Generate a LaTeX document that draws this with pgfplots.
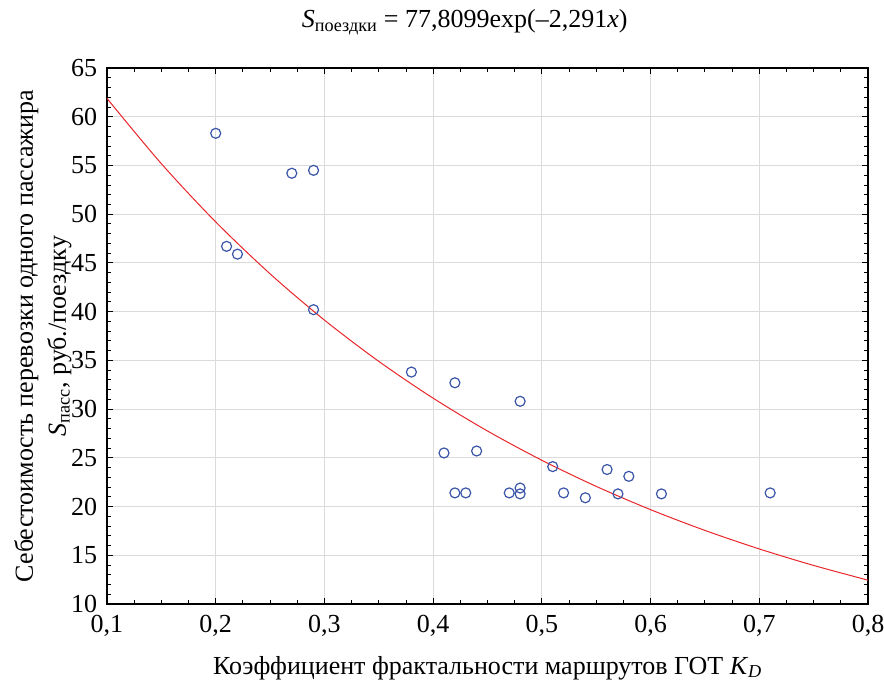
\documentclass[border=0pt]{standalone}
\usepackage{fontspec}
\setmainfont{Liberation Serif}
\usepackage{pgfplots}
\pgfplotsset{compat=1.18}
\definecolor{ptblue}{HTML}{3A55A8}
\definecolor{fitred}{HTML}{E8262A}

\begin{document}
\fontsize{26}{30}\selectfont
\begin{tikzpicture}
\begin{axis}[
    scale only axis,
    width=761pt, height=536pt,
    xmin=0.1, xmax=0.8, ymin=10, ymax=65,
    xtick={0.1,0.2,...,0.8},
    ytick={10,15,...,65},
    minor x tick num=3, minor y tick num=4,
    tick align=inside,
    major tick length=6pt, minor tick length=4pt,
    tick style={black, line width=0.9pt},
    axis line style={line width=1.3pt},
    grid=major, major grid style={black!14, line width=0.9pt},
    /pgf/number format/assume math mode=true,
    ticklabel style={font=\fontsize{26}{30}\selectfont},
    xticklabel style={yshift=-2pt, /pgf/number format/fixed,
        /pgf/number format/fixed zerofill, /pgf/number format/precision=1,
        /pgf/number format/use comma},
    yticklabel style={xshift=-1pt},
    xlabel={Коэффициент фрактальности маршрутов ГОТ \textit{K}\textsubscript{\textit{D}}},
    xlabel style={at={(axis description cs:0.5,0)}, anchor=center, yshift=-64pt,
        font=\fontsize{26}{30}\selectfont},
    ylabel={Себестоимость перевозки одного пассажира\\\textit{S}\textsubscript{пасс}, руб./поездку},
    ylabel style={at={(axis description cs:0,0.5)}, anchor=center, yshift=64pt,
        align=center, font=\fontsize{26}{33}\selectfont},
    title={\textit{S}\textsubscript{поездки} = 77,8099exp(–2,291\textit{x})},
    title style={at={(axis description cs:0.47,1)}, anchor=center, yshift=40pt,
        font=\fontsize{26}{30}\selectfont},
    clip=false,
]
% fitted curve S = 77.8099 exp(-2.291 x), tabulated
\addplot[fitred, line width=1pt, smooth] coordinates {
    (0.10,61.878) (0.15,55.181) (0.20,49.207) (0.25,43.882) (0.30,39.132)
    (0.35,34.897) (0.40,31.120) (0.45,27.752) (0.50,24.749) (0.55,22.071)
    (0.60,19.682) (0.65,17.551) (0.70,15.651) (0.75,13.957) (0.80,12.446)
};
% observed routes
\addplot[only marks, mark=o, mark size=5pt, ptblue, line width=1.2pt] coordinates {
    (0.20,58.3) (0.21,46.7) (0.22,45.9) (0.27,54.2) (0.29,54.5) (0.29,40.2)
    (0.38,33.8) (0.42,32.7) (0.48,30.8) (0.41,25.5) (0.44,25.7) (0.42,21.4)
    (0.43,21.4) (0.47,21.4) (0.48,21.9) (0.48,21.3) (0.51,24.1) (0.52,21.4)
    (0.54,20.9) (0.56,23.8) (0.58,23.1) (0.57,21.3) (0.61,21.3) (0.71,21.4)
};
\end{axis}
\pgfresetboundingbox
\path (current axis.south west) ++(-107pt,-77pt) rectangle ++(884pt,681pt);
\end{tikzpicture}
\end{document}
